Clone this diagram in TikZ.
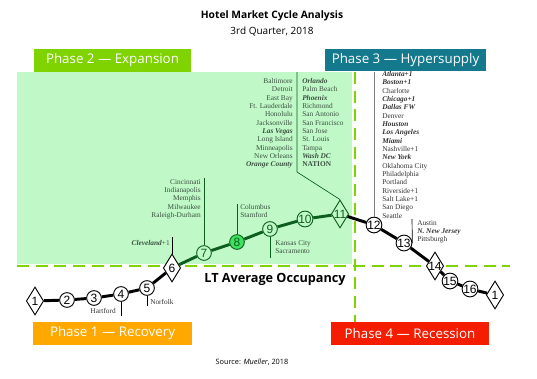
\documentclass[tikz,border=0pt]{standalone}
\usepackage{fontspec}
\setmainfont{Open Sans}
\newfontfamily\cityfont{Liberation Serif}
\newfontfamily\numfont{Liberation Sans}
\usetikzlibrary{shapes.geometric}
\definecolor{Lime}{HTML}{7ED300}
\definecolor{Teal}{HTML}{14798D}
\definecolor{Amber}{HTML}{FFA800}
\definecolor{Scarlet}{HTML}{F41D00}
\definecolor{Mint}{HTML}{C0F9C7}
\definecolor{Forest}{HTML}{0D5E1E}
\definecolor{Leaf}{HTML}{3DE35E}
\definecolor{Slate}{HTML}{3A4F40}
\newcommand{\hotmkt}[1]{\textbf{\textit{#1}}}

\begin{document}
\begin{tikzpicture}[x=0.75pt,y=-0.75pt,
    phase/.style={fill=#1,text=white,minimum width=118pt,minimum height=17pt,inner sep=0pt,font=\fontsize{10}{12}\selectfont},
    cyc/.style={circle,draw,fill=white,inner sep=0pt,minimum size=11pt,line width=0.7pt,font=\numfont\fontsize{9}{9}\selectfont},
    gcyc/.style={cyc,draw=Forest,text=Forest,fill=Mint},
    dia/.style={diamond,draw,fill=white,inner sep=0pt,minimum width=13pt,minimum height=21pt,line width=0.7pt,font=\numfont\fontsize{9}{9}\selectfont},
    cities/.style={inner sep=0pt,font=\cityfont\fontsize{5.5}{6.25}\selectfont},
    cycline/.style={line width=2.2pt},
    tick/.style={line width=0.5pt},
    occline/.style={Lime,line width=2.2pt,dash pattern=on 9pt off 5pt}]
  \useasboundingbox (0,0) rectangle (537,379);
  \fill[Mint] (17,72) rectangle (352,264);
  \draw[occline] (17,266) -- (510,266);
  \draw[occline] (355,72) -- (355,322);

  \node[font=\bfseries\fontsize{7.7}{9}\selectfont] (title) at (272,16) {Hotel Market Cycle Analysis};
  \node[font=\fontsize{7.5}{9}\selectfont] (quarter) at (272,32) {3rd Quarter, 2018};
  \node[phase=Lime] (p2) at (112.5,60.5) {Phase 2 — Expansion};
  \node[phase=Teal,minimum width=121pt] (p3) at (405.5,60) {Phase 3 — Hypersupply};
  \node[phase=Amber,minimum width=119pt] (p1) at (112.5,333.5) {Phase 1 — Recovery};
  \node[phase=Scarlet,minimum width=119pt] (p4) at (410,333.5) {Phase 4 — Recession};
  \node[font=\bfseries\fontsize{9.5}{11}\selectfont] (lt) at (275,279) {LT Average Occupancy};
  \node[font=\fontsize{5.5}{7}\selectfont] (src) at (252,362) {Source: \textit{Mueller}, 2018};

  \node[dia] (d1) at (35,301) {\makebox[0pt]{1}};
  \foreach \n/\x/\y in {2/67/300,3/94/298,4/121/294,5/147/288}
    \node[cyc] (n\n) at (\x,\y) {\n};
  \node[dia] (d6) at (172,268) {\makebox[0pt]{6}};
  \foreach \n/\x/\y in {7/204/253,9/270/229,10/305/219}
    \node[gcyc] (n\n) at (\x,\y) {\n};
  \node[gcyc,fill=Leaf] (n8) at (237,242) {8};
  \node[dia,draw=Forest,text=Forest,fill=Mint] (d11) at (340,214) {\makebox[0pt]{11}};
  \foreach \n/\x/\y in {12/374/225,13/404/243,15/450/281,16/470/289}
    \node[cyc] (n\n) at (\x,\y) {\n};
  \node[dia] (d14) at (435,266) {\makebox[0pt]{14}};
  \node[dia] (d1b) at (495,295) {\makebox[0pt]{1}};

  \draw[cycline] (d1) -- (n2) -- (n3) -- (n4) -- (n5) -- (d6);
  \draw[cycline,Forest] (d6) -- (n7) -- (n8) -- (n9) -- (n10) -- (d11);
  \draw[cycline] (d11) -- (n12) -- (n13) -- (d14) -- (n15) -- (n16) -- (d1b);

  \node[cities,text=Slate,align=right,anchor=north east] (exp1) at (293,78)
    {Baltimore\\Detroit\\East Bay\\Ft. Lauderdale\\Honolulu\\Jacksonville\\\hotmkt{Las Vegas}\\Long Island\\Minneapolis\\New Orleans\\\hotmkt{Orange County}};
  \node[cities,text=Slate,align=left,anchor=north west] (exp2) at (302,78)
    {\hotmkt{Orlando}\\Palm Beach\\\hotmkt{Phoenix}\\Richmond\\San Antonio\\San Francisco\\San Jose\\St. Louis\\Tampa\\\hotmkt{Wash DC}\\\textbf{NATION}};
  \node[cities,text=black!80,align=left,anchor=north west] (hyp) at (382,71)
    {\hotmkt{Atlanta+1}\\\hotmkt{Boston+1}\\Charlotte\\\hotmkt{Chicago+1}\\\hotmkt{Dallas FW}\\Denver\\\hotmkt{Houston}\\\hotmkt{Los Angeles}\\\hotmkt{Miami}\\Nashville+1\\\hotmkt{New York}\\Oklahoma City\\Philadelphia\\Portland\\Riverside+1\\Salt Lake+1\\San Diego\\Seattle};
  \node[cities,text=Slate,align=right,anchor=north east] (m7) at (201,179)
    {Cincinnati\\Indianapolis\\Memphis\\Milwaukee\\Raleigh-Durham};
  \node[cities,text=Slate,align=left,anchor=north west] (m8) at (240,204) {Columbus\\Stamford};
  \node[cities,text=Slate,align=left,anchor=north west] (m9) at (275,240) {Kansas City\\Sacramento};
  \node[cities,text=Slate,anchor=north east] (m6) at (170,240) {\hotmkt{Cleveland}+1};
  \node[cities,text=black!80,anchor=north east] (m4) at (116,308) {Hartford};
  \node[cities,text=black!80,anchor=north west] (m5) at (150,299) {Norfolk};
  \node[cities,text=black!80,align=left,anchor=north west] (m13) at (417,220)
    {Austin\\\hotmkt{N. New Jersey}\\Pittsburgh};

  \coordinate (c2top) at (297,72);
  \coordinate (c2bend) at (297,172);
  \coordinate (c3top) at (374,72);
  \coordinate (c7top) at (204,178);
  \coordinate (c8top) at (237,204);
  \coordinate (c9bot) at (270,258);
  \coordinate (c6top) at (172,237);
  \coordinate (c4bot) at (121,316);
  \coordinate (c5bot) at (147,306);
  \coordinate (c13top) at (412,219);
  \draw[tick,Forest] (c2top) -- (c2bend) -- (d11.north);
  \draw[tick,gray] (c3top) -- (n12.north);
  \draw[tick,Forest] (c7top) -- (n7.north);
  \draw[tick,Forest] (c8top) -- (n8.north);
  \draw[tick,Forest] (n9.south) -- (c9bot);
  \draw[tick] (c6top) -- (d6.north);
  \draw[tick] (n4.south) -- (c4bot);
  \draw[tick] (n5.south) -- (c5bot);
  \draw[tick] (c13top) -- (n13.east);
\end{tikzpicture}
\end{document}
